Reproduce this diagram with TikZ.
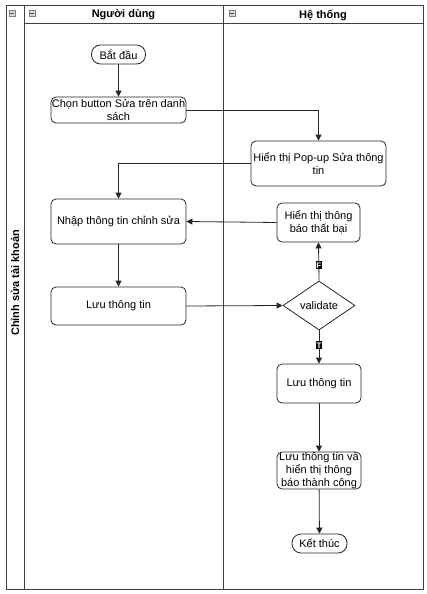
\documentclass[tikz,border=0pt]{standalone}
\usepackage{fontspec}
\setmainfont{Liberation Sans}
\usetikzlibrary{shapes.geometric,arrows.meta}
\tikzset{
  lane/.style={draw=black!75, line width=1pt},
  lanetitle/.style={font=\fontsize{11}{13}\selectfont\bfseries, inner sep=0pt},
  box/.style={draw=black!85, line width=0.8pt, rounded corners=5pt, align=center, font=\fontsize{11}{13}\selectfont, inner sep=0.5pt},
  pill/.style={draw=black!85, line width=0.8pt, rounded corners=9pt, align=center, font=\fontsize{11}{13}\selectfont, inner sep=1pt},
  dec/.style={draw=black!85, line width=0.8pt, diamond, aspect=1.47, inner sep=0pt, font=\fontsize{11}{13}\selectfont},
  flow/.style={draw=black!85, line width=0.8pt, -{Triangle[length=6pt,width=6pt]}},
  tag/.style={fill=black, text=white, font=\fontsize{8}{9}\selectfont\bfseries, inner xsep=0.8pt, inner ysep=1.2pt},
  icon/.style={draw=black!50, fill=black!15, line width=0.4pt},
}
\begin{document}
\begin{tikzpicture}[x=1pt,y=-1pt]
\useasboundingbox (0,0) rectangle (427,594);
% pool and lanes
\draw[lane] (6,6) rectangle (423,589);
\draw[lane] (24,6) rectangle (223,589);
\draw[lane] (223,6) rectangle (423,589);
\draw[lane] (24,24) -- (423,24);
% header icons
\draw[icon] (9,10) rectangle (15,16);
\draw[black!70, line width=0.6pt] (10,13) -- (14,13);
\draw[icon] (29,10) rectangle (35,16);
\draw[black!70, line width=0.6pt] (30,13) -- (34,13);
\draw[icon] (229,10) rectangle (235,16);
\draw[black!70, line width=0.6pt] (230,13) -- (234,13);
% titles
\node[lanetitle] (pooltitle) at (15,283) [rotate=90] {Chỉnh sửa tài khoản};
\node[lanetitle] (lane1) at (123.5,15) {Người dùng};
\node[lanetitle] (lane2) at (323,15) {Hệ thống};
% nodes
\node[pill, minimum width=54pt, minimum height=19pt] (start) at (118.5,54.5) {Bắt đầu};
\node[box, minimum width=135pt, minimum height=26pt] (chon) at (118.5,110) {Chọn button Sửa trên danh\\sách};
\node[box, minimum width=135pt, minimum height=45pt] (popup) at (318.5,163.5) {Hiển thị Pop-up Sửa thông\\tin};
\node[box, minimum width=135pt, minimum height=45pt] (nhap) at (118.5,221.5) {Nhập thông tin chỉnh sửa};
\node[box, minimum width=83pt, minimum height=39pt] (fail) at (318.5,222.5) {Hiển thị thông\\báo thất bại};
\node[box, minimum width=135pt, minimum height=38pt] (luu1) at (118.5,306) {Lưu thông tin};
\node[dec, minimum width=72pt, minimum height=49pt] (val) at (319,305.5) {validate};
\node[box, minimum width=84pt, minimum height=39pt] (luu2) at (319,383.5) {Lưu thông tin};
\node[box, minimum width=84pt, minimum height=37pt, inner sep=0pt] (ok) at (319,470.5) {Lưu thông tin và\\hiển thị thông\\báo thành công};
\node[pill, minimum width=55pt, minimum height=19pt] (end) at (319.5,543.5) {Kết thúc};
% connectors
\draw[flow] (start) -- (chon);
\draw[flow] (chon.east) -| (popup.north);
\draw[flow] (popup.west) -| (nhap.north);
\draw[flow] (fail.west) -- (nhap.east);
\draw[flow] (nhap) -- (luu1);
\draw[flow] (luu1.east) -- (val.west);
\draw[flow] (val.north) -- node[tag, pos=0.4] (ftag) {F} (fail.south);
\draw[flow] (val.south) -- node[tag, pos=0.45] (ttag) {T} (luu2.north);
\draw[flow] (luu2) -- (ok);
\draw[flow] (ok) -- (end);
\end{tikzpicture}
\end{document}
